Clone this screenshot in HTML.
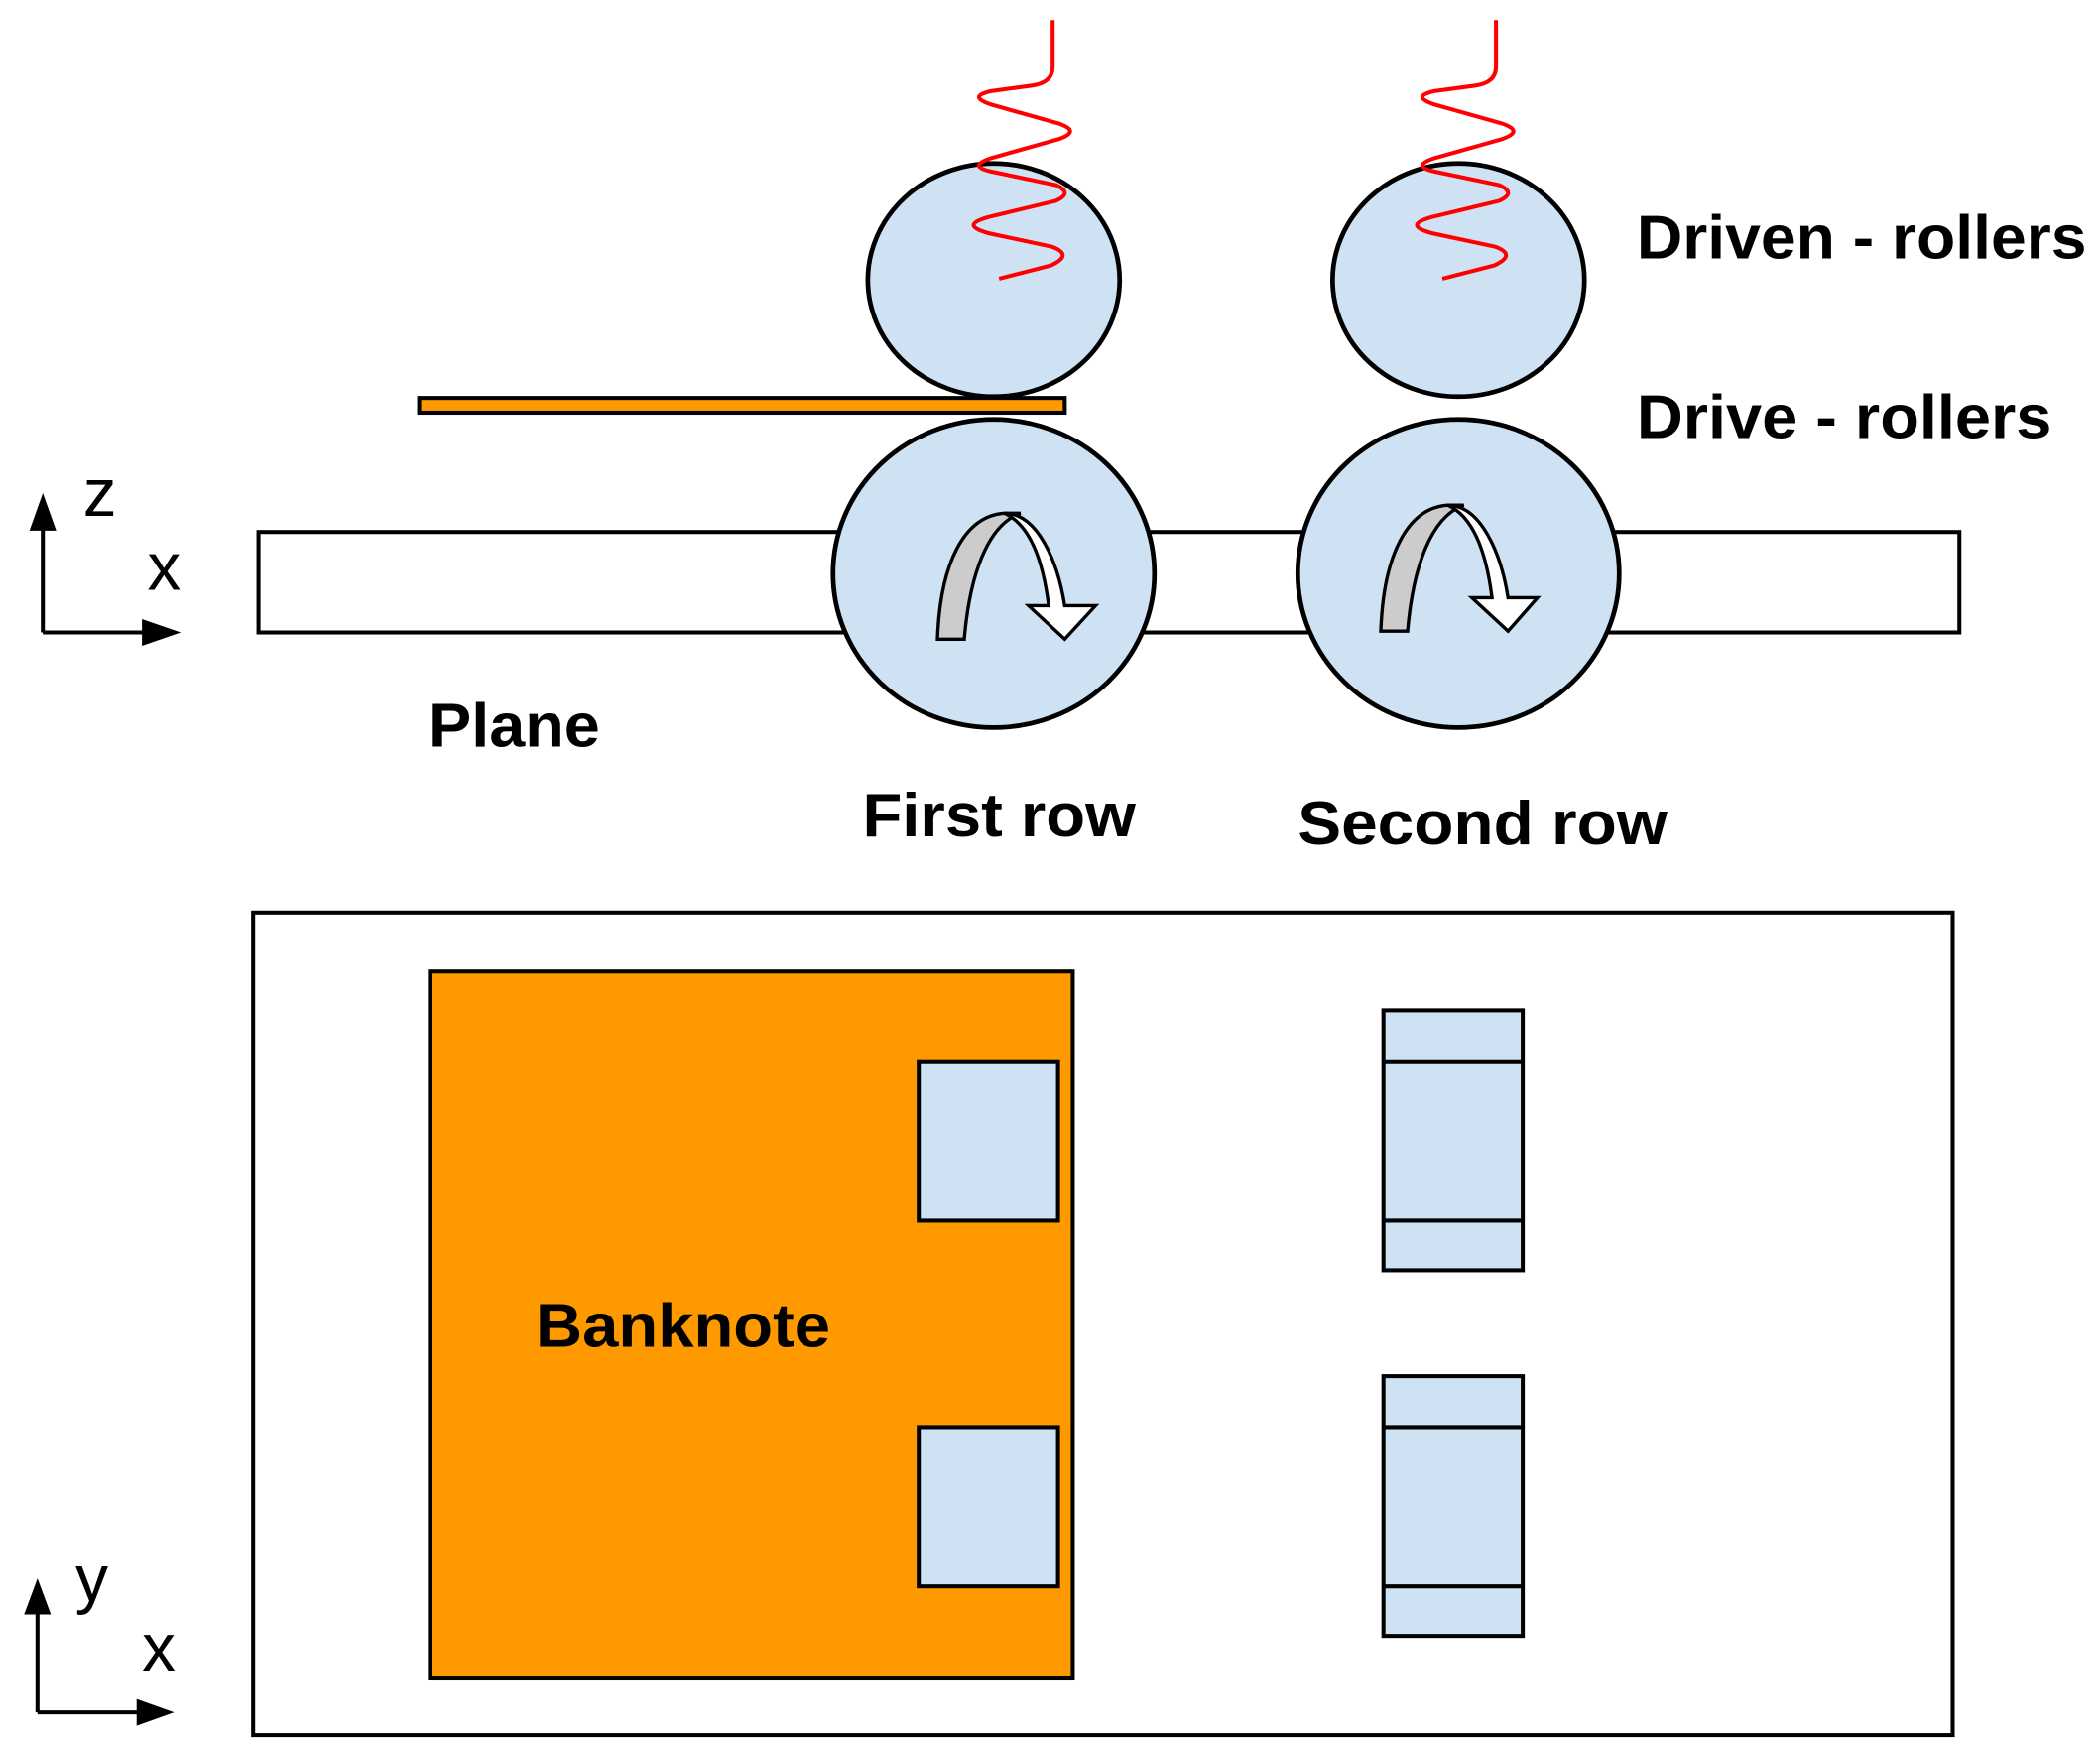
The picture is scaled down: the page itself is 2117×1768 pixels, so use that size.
<!DOCTYPE html>
<html><head><meta charset="utf-8"><style>
html,body{margin:0;padding:0;background:#fff;}
svg{display:block;}
text{font-family:"Liberation Sans",sans-serif;font-weight:bold;fill:#000;}
</style></head><body>
<svg width="2117" height="1768" viewBox="0 0 1568 1309" preserveAspectRatio="none" xmlns="http://www.w3.org/2000/svg">
<rect x="193" y="397" width="1270" height="75" fill="#fff" stroke="#000" stroke-width="3"/>
<rect x="313" y="297" width="482" height="11" fill="#f90" stroke="#000" stroke-width="3"/>
<g fill="#cfe2f3" stroke="#000" stroke-width="3.5">
<ellipse cx="742" cy="209" rx="94" ry="87"/>
<ellipse cx="1089" cy="209" rx="94" ry="87"/>
<ellipse cx="742" cy="428" rx="120" ry="115"/>
<ellipse cx="1089" cy="428" rx="120" ry="115"/>
</g>
<g fill="none" stroke="#f00" stroke-width="3">
<path d="M786,15 L786,50 Q786,62 770,64 L740,68 Q722,72 740,78 L790,92 Q808,98 790,104 L740,118 Q722,124 740,128 L788,138 Q802,144 788,150 L738,162 Q716,168 738,174 L785,184 Q802,190 785,198 L746,208"/>
<path d="M1117,15 L1117,50 Q1117,62 1101,64 L1071,68 Q1053,72 1071,78 L1121,92 Q1139,98 1121,104 L1071,118 Q1053,124 1071,128 L1119,138 Q1133,144 1119,150 L1069,162 Q1047,168 1069,174 L1116,184 Q1133,190 1116,198 L1077,208"/>
</g>
<g stroke="#000" stroke-width="2.5">
<path d="M700,477 C702,420 720,385 750,383 L762,383 C737,392 724,430 720,477 Z" fill="#ccc"/>
<path d="M750,383 C775,383 790,420 795,452 L818,452 L795,477 L768,452 L783,452 C779,420 770,392 750,383 Z" fill="#fff"/>
<path d="M1031,471 C1033,414 1051,379 1081,377 L1093,377 C1068,386 1055,424 1051,471 Z" fill="#ccc"/>
<path d="M1081,377 C1106,377 1121,414 1126,446 L1148,446 L1126,471 L1099,446 L1114,446 C1110,414 1101,386 1081,377 Z" fill="#fff"/>
</g>
<g stroke="#000" stroke-width="3" fill="none"><path d="M32,472 V392 M32,472 H112"/></g>
<path d="M22,396 L32,368 L42,396 Z M106,462 L135,472 L106,482 Z"/>
<text x="62" y="385" font-size="50" style="font-weight:normal">z</text>
<text x="110" y="440" font-size="50" style="font-weight:normal">x</text>
<text x="1222" y="193" font-size="46" textLength="336" lengthAdjust="spacingAndGlyphs">Driven - rollers</text>
<text x="1222" y="327" font-size="46" textLength="310" lengthAdjust="spacingAndGlyphs">Drive - rollers</text>
<text x="320" y="557" font-size="46" textLength="128" lengthAdjust="spacingAndGlyphs">Plane</text>
<text x="644" y="624" font-size="46" textLength="204" lengthAdjust="spacingAndGlyphs">First row</text>
<text x="969" y="630" font-size="46" textLength="276" lengthAdjust="spacingAndGlyphs">Second row</text>
<rect x="189" y="681" width="1269" height="614" fill="#fff" stroke="#000" stroke-width="3"/>
<rect x="321" y="725" width="480" height="527" fill="#f90" stroke="#000" stroke-width="3"/>
<g fill="#cfe2f3" stroke="#000" stroke-width="3">
<rect x="686" y="792" width="104" height="119"/>
<rect x="686" y="1065" width="104" height="119"/>
<rect x="1033" y="754" width="104" height="194"/>
<rect x="1033" y="1027" width="104" height="194"/>
</g>
<g stroke="#000" stroke-width="3"><path d="M1033,792 H1137 M1033,911 H1137 M1033,1065 H1137 M1033,1184 H1137"/></g>
<text x="400" y="1005" font-size="46" textLength="220" lengthAdjust="spacingAndGlyphs">Banknote</text>
<g stroke="#000" stroke-width="3" fill="none"><path d="M28,1278 V1200 M28,1278 H106"/></g>
<path d="M18,1205 L28,1178 L38,1205 Z M102,1268 L130,1278 L102,1288 Z"/>
<text x="56" y="1195" font-size="50" style="font-weight:normal">y</text>
<text x="106" y="1247" font-size="50" style="font-weight:normal">x</text>
</svg>
</body></html>
